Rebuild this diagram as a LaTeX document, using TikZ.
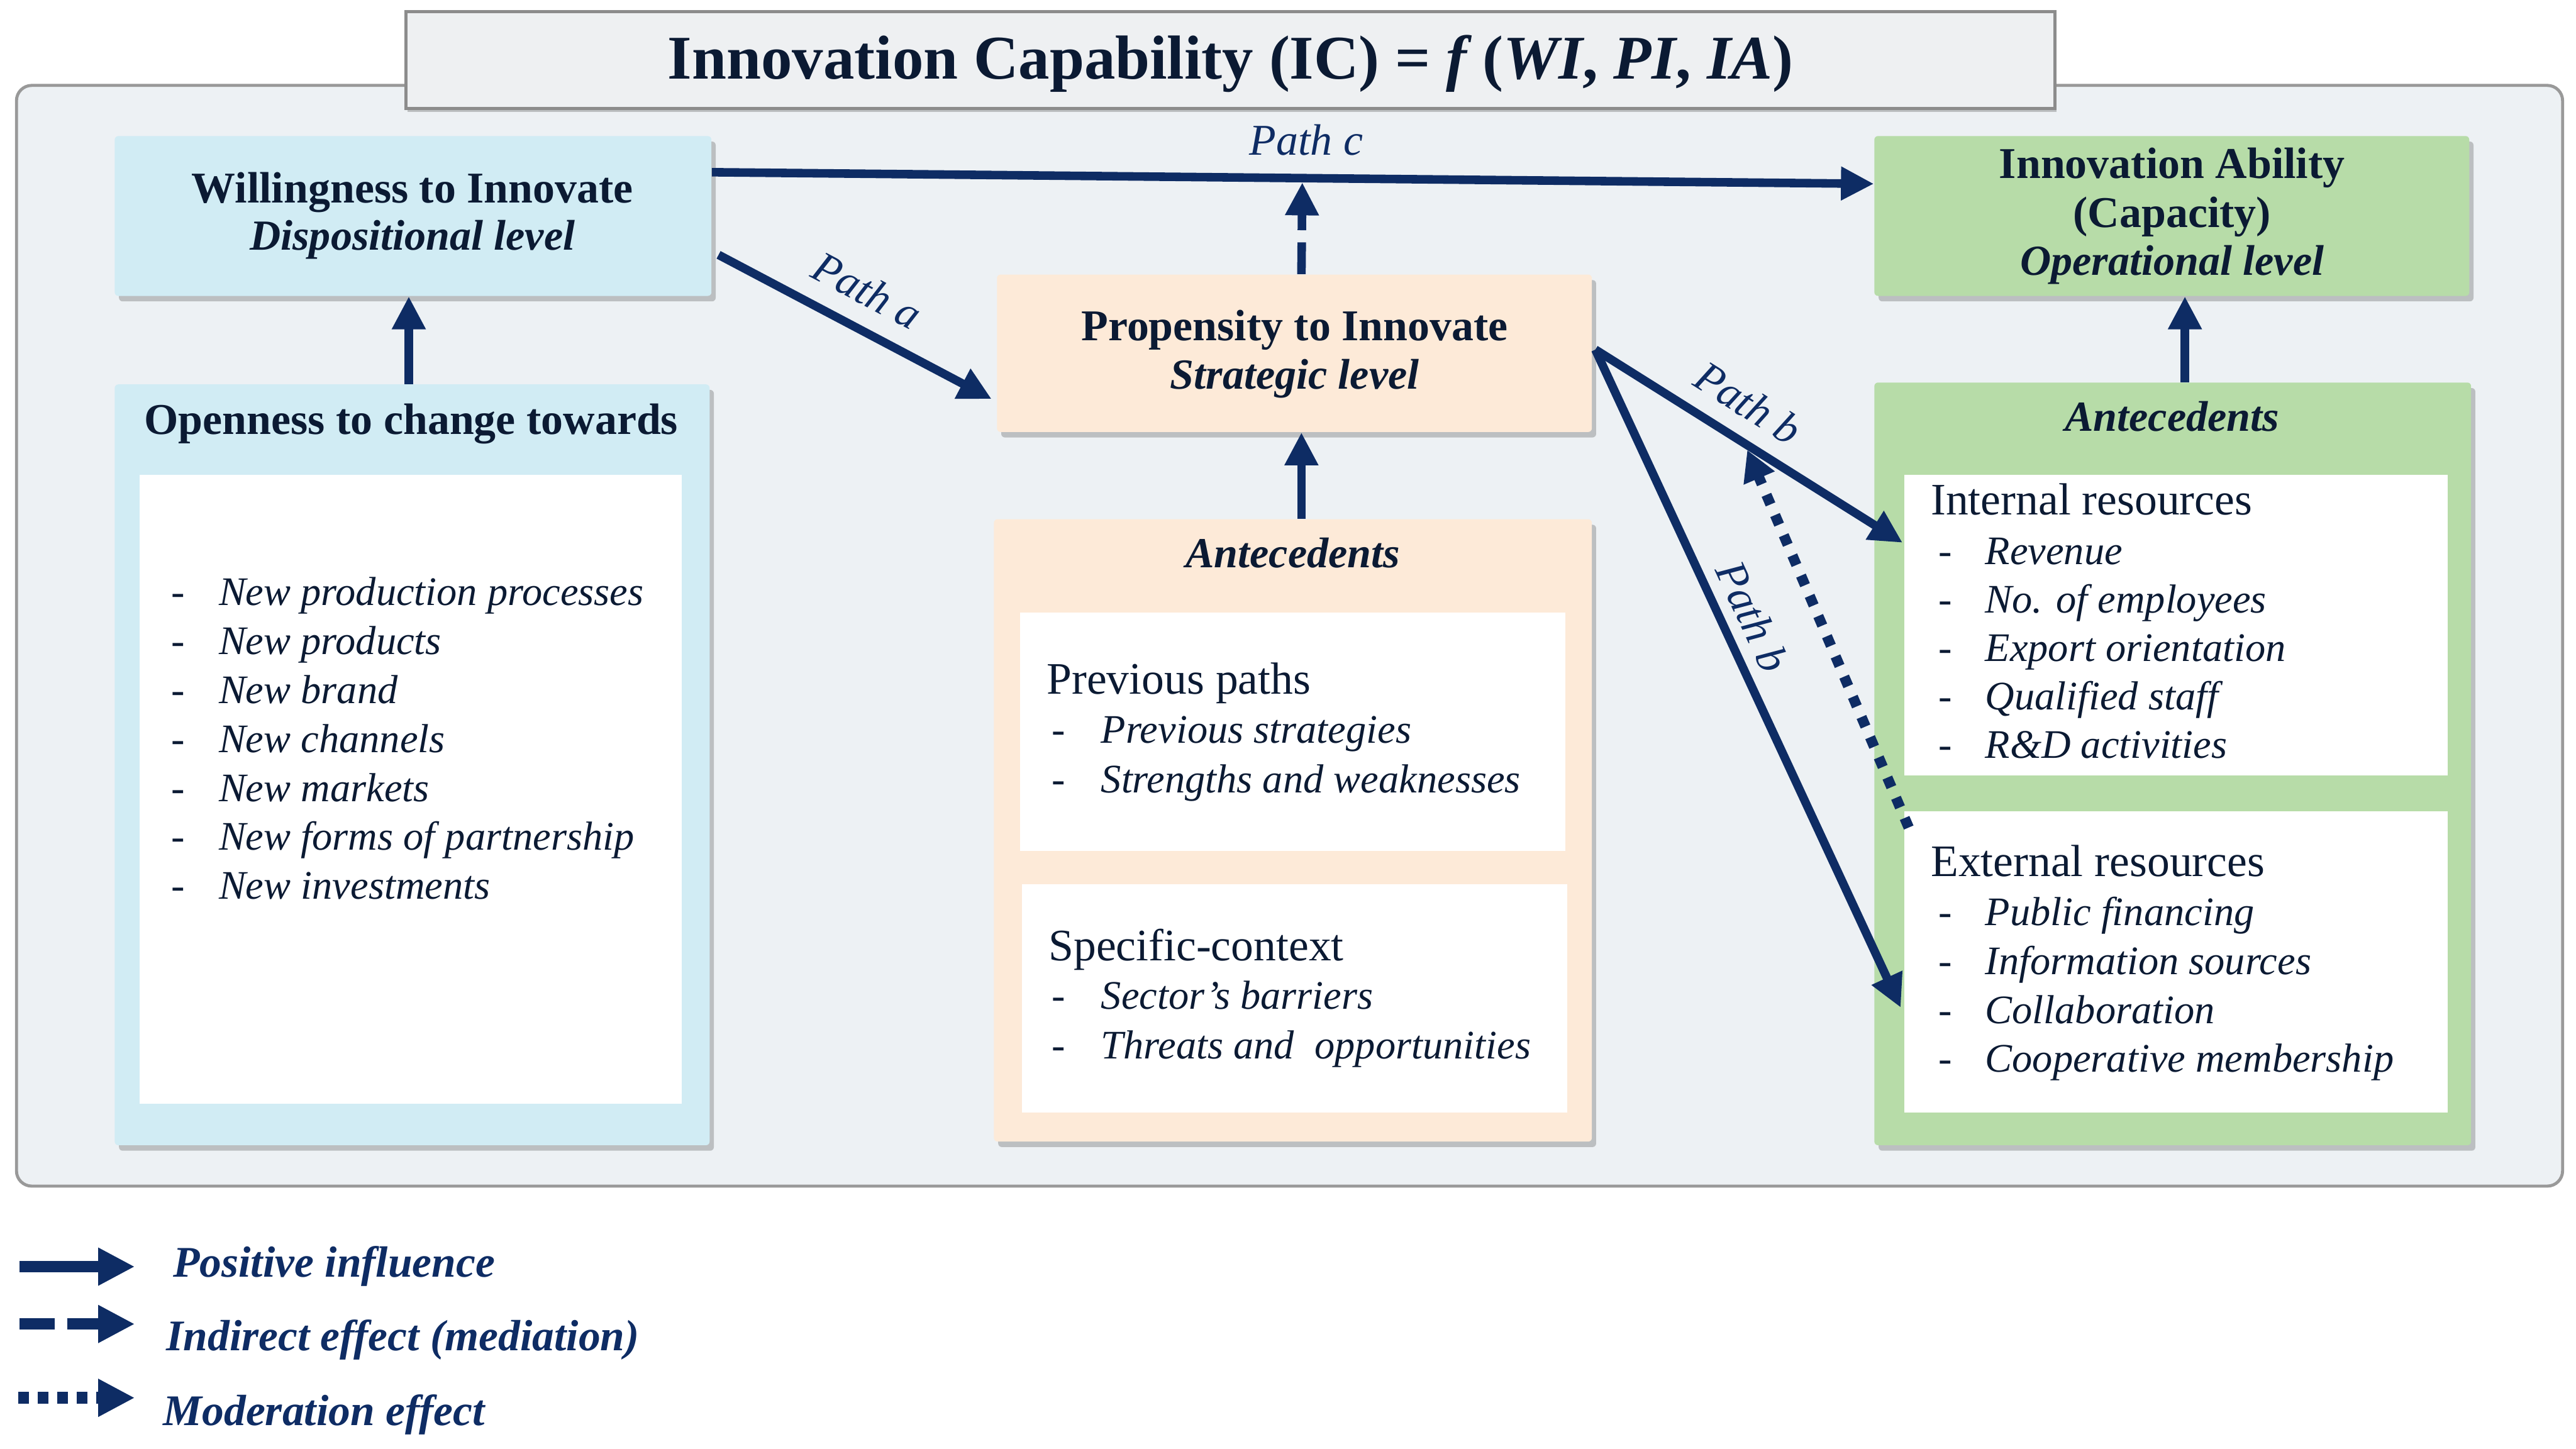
\documentclass[tikz,border=0pt]{standalone}
\usepackage{fontspec}
\setmainfont{Liberation Serif}
\usetikzlibrary{arrows.meta,shadows,calc}
\definecolor{navy}{HTML}{0E2C64}
\definecolor{bgc}{HTML}{EDF1F4}
\definecolor{titlec}{HTML}{EEF0F2}
\definecolor{bluebox}{HTML}{D1ECF4}
\definecolor{peach}{HTML}{FDEAD8}
\definecolor{greenbox}{HTML}{B7DCA8}
\definecolor{ink}{HTML}{0B1A33}
\newcommand\bxf{\fontsize{20.5}{24}\selectfont}
\newcommand\bif{\fontsize{20}{24}\selectfont}
\newcommand\hdf{\fontsize{21}{24}\selectfont}
\newcommand\itf{\fontsize{18.9}{22}\selectfont}
\tikzset{
  box/.style={rectangle, rounded corners=0.06cm, inner sep=0,
    drop shadow={shadow xshift=0.07cm, shadow yshift=-0.09cm, opacity=0.3, fill=black!70}},
  wbox/.style={rectangle, fill=white, inner sep=0},
  ttl/.style={anchor=mid, inner sep=0, yshift=-0.12cm, text=ink, font=\bxf\bfseries},
  ttli/.style={anchor=mid, inner sep=0, yshift=-0.12cm, text=ink, font=\bif\bfseries\itshape},
  head/.style={anchor=mid west, inner sep=0, yshift=-0.12cm, text=ink, font=\hdf},
  dashm/.style={anchor=mid west, inner sep=0, yshift=-0.12cm, text=ink, font=\itf},
  itm/.style={anchor=mid west, inner sep=0, yshift=-0.12cm, text=ink, font=\itf\itshape},
  arr/.style={draw=navy, line width=0.14cm, -{Triangle[length=0.54cm,width=0.52cm,fill=navy]}},
  plbl/.style={inner sep=0.06cm, text=navy, font=\fontsize{20.5}{24}\selectfont\itshape},
  legtxt/.style={anchor=mid west, inner sep=0, yshift=-0.12cm, text=navy, font=\fontsize{20.4}{24}\selectfont\bfseries\itshape},
}
\begin{document}
\begin{tikzpicture}
\useasboundingbox (0,0) rectangle (42.22,-23.74);
\fill[white] (0,0) rectangle (42.22,-23.74);

% background panel and title
\node[rectangle, rounded corners=0.25cm, fill=bgc, draw=black!40, line width=0.05cm,
  minimum width=41.73cm, minimum height=18.04cm] (bg) at (21.135,-10.42) {};
\node[rectangle, fill=titlec, draw=black!45, line width=0.05cm,
  drop shadow={shadow xshift=0.03cm, shadow yshift=-0.06cm, opacity=0.3, fill=black!70},
  minimum width=27.03cm, minimum height=1.59cm] (title) at (20.165,-0.985) {};
\node[anchor=mid, inner sep=0, text=ink, font=\fontsize{29}{33}\selectfont\bfseries] (titletxt) at (20.17,-1.21)
  {Innovation Capability (IC) = \textit{f}\,(\textit{WI}, \textit{PI}, \textit{IA})};

% Willingness to innovate
\node[box, fill=bluebox, minimum width=9.78cm, minimum height=2.62cm] (WI) at (6.77,-3.54) {};
\node[ttl] (WIt1) at (6.76,-3.12) {Willingness to Innovate};
\node[ttli] (WIt2) at (6.76,-3.90) {Dispositional level};

% Openness
\node[box, fill=bluebox, minimum width=9.75cm, minimum height=12.47cm] (OP) at (6.755,-12.535) {};
\node[ttl] (OPt) at (6.74,-6.92) {Openness to change towards};
\node[wbox, minimum width=8.88cm, minimum height=10.31cm] (OPw) at (6.73,-12.935) {};
\foreach \t [count=\i] in {New production processes, New products, New brand, New channels, New markets, New forms of partnership, New investments} {
  \node[dashm] (opd\i) at (2.80,{-9.72-0.803*(\i-1)}) {-};
  \node[itm] (opi\i) at (3.58,{-9.72-0.803*(\i-1)}) {\t};
}

% Propensity
\node[box, fill=peach, minimum width=9.75cm, minimum height=2.58cm] (PI) at (21.215,-5.79) {};
\node[ttl] (PIt1) at (21.22,-5.38) {Propensity to Innovate};
\node[ttli] (PIt2) at (21.22,-6.17) {Strategic level};

% Middle antecedents
\node[box, fill=peach, minimum width=9.80cm, minimum height=10.20cm] (MA) at (21.19,-13.61) {};
\node[ttli] (MAt) at (21.19,-9.10) {Antecedents};
\node[wbox, minimum width=8.94cm, minimum height=3.91cm] (MA1) at (21.19,-11.995) {};
\node[wbox, minimum width=8.94cm, minimum height=3.74cm] (MA2) at (21.22,-16.36) {};
\node[head] (MA1t) at (17.15,-11.17) {Previous paths};
\foreach \t [count=\i] in {Previous strategies, Strengths and weaknesses} {
  \node[dashm] (mad\i) at (17.23,{-11.98-0.81*(\i-1)}) {-};
  \node[itm] (mai\i) at (18.04,{-11.98-0.81*(\i-1)}) {\t};
}
\node[head] (MA2t) at (17.18,-15.54) {Specific-context};
\foreach \t [count=\i] in {Sector’s barriers, Threats and\ \ opportunities} {
  \node[dashm] (mbd\i) at (17.23,{-16.34-0.81*(\i-1)}) {-};
  \node[itm] (mbi\i) at (18.04,{-16.34-0.81*(\i-1)}) {\t};
}

% Innovation ability
\node[box, fill=greenbox, minimum width=9.75cm, minimum height=2.62cm] (IA) at (35.595,-3.54) {};
\node[ttl] (IAt1) at (35.60,-2.72) {Innovation Ability};
\node[ttl] (IAt2) at (35.60,-3.53) {(Capacity)};
\node[ttli] (IAt3) at (35.60,-4.31) {Operational level};

% Right antecedents
\node[box, fill=greenbox, minimum width=9.78cm, minimum height=12.50cm] (RA) at (35.61,-12.52) {};
\node[ttli] (RAt) at (35.60,-6.87) {Antecedents};
\node[wbox, minimum width=8.91cm, minimum height=4.93cm] (RA1) at (35.665,-10.245) {};
\node[wbox, minimum width=8.91cm, minimum height=4.93cm] (RA2) at (35.665,-15.765) {};
\node[head] (RA1t) at (31.64,-8.24) {Internal resources};
\foreach \t [count=\i] in {Revenue, No. of employees, Export orientation, Qualified staff, R\&D activities} {
  \node[dashm] (rad\i) at (31.77,{-9.05-0.793*(\i-1)}) {-};
  \node[itm] (rai\i) at (32.53,{-9.05-0.793*(\i-1)}) {\t};
}
\node[head] (RA2t) at (31.64,-14.16) {External resources};
\foreach \t [count=\i] in {Public financing, Information sources, Collaboration, Cooperative membership} {
  \node[dashm] (rbd\i) at (31.77,{-14.97-0.80*(\i-1)}) {-};
  \node[itm] (rbi\i) at (32.53,{-14.97-0.80*(\i-1)}) {\t};
}

% connectors
\draw[arr] (OP.north -| 6.70,0) -- (6.70,0 |- WI.south);
\draw[arr] ([xshift=0.14cm]MA.north) -- ([xshift=0.14cm]MA.north |- PI.south);
\draw[arr] (RA.north -| 35.81,0) -- (35.81,0 |- IA.south);

% path c
\coordinate (pcs) at ([yshift=-0.60cm]WI.north east);
\coordinate (pce) at ([yshift=-0.79cm]IA.north west);
\draw[arr] (pcs) -- (pce);
\node[plbl] (lc) at (21.41,-2.29) {Path c};

% mediation (dashed) from PI to path c
\coordinate (pib) at (21.33,0 |- PI.north);
\coordinate (pcm) at ($(pcs)!(pib)!(pce)$);
\draw[arr, dash pattern=on 0.52cm off 0.2cm, shorten >=0.07cm] (pib) -- (pcm);

% path a
\coordinate (pas) at ([xshift=0.11cm, yshift=0.68cm]WI.south east);
\coordinate (pae) at ([xshift=-0.08cm, yshift=-0.75cm]PI.west);
\draw[arr] (pas) -- node[plbl, sloped, above=0.24cm, pos=0.48] (la) {Path a} (pae);

% path b
\coordinate (pbs) at ([xshift=0.05cm, yshift=0.06cm]PI.east);
\coordinate (pbe1) at ([xshift=-0.02cm, yshift=1.35cm]RA1.west);
\coordinate (pbe2) at ([xshift=-0.05cm, yshift=-0.75cm]RA2.west);
\draw[arr] (pbs) -- node[plbl, sloped, above=0.21cm, pos=0.435] (lb1) {Path b} (pbe1);
\draw[arr] (pbs) -- node[plbl, sloped, above=0.12cm, pos=0.425] (lb2) {Path b} (pbe2);

% moderation (dotted)
\coordinate (mods) at ([xshift=0.08cm, yshift=-0.27cm]RA2.north west);
\coordinate (mode) at ($(pbs)!0.485!(pbe1)$);
\draw[draw=navy, line width=0.17cm, dash pattern=on 0.17cm off 0.19cm,
  -{Triangle[length=0.5cm,width=0.52cm,fill=navy]}, shorten >=0.12cm] (mods) -- (mode);

% legend
\coordinate (l1s) at (0.32,-20.76); \coordinate (l1e) at (2.21,-20.76);
\coordinate (l2s) at (0.32,-21.70); \coordinate (l2e) at (2.21,-21.70);
\coordinate (l3s) at (0.30,-22.91); \coordinate (l3e) at (2.21,-22.91);
\draw[draw=navy, line width=0.19cm, -{Triangle[length=0.6cm,width=0.58cm,fill=navy]}] (l1s) -- (l1e);
\draw[draw=navy, line width=0.19cm, dash pattern=on 0.58cm off 0.2cm, -{Triangle[length=0.6cm,width=0.58cm,fill=navy]}] (l2s) -- (l2e);
\draw[draw=navy, line width=0.19cm, dash pattern=on 0.17cm off 0.15cm, -{Triangle[length=0.6cm,width=0.58cm,fill=navy]}] (l3s) -- (l3e);
\node[legtxt] (lt1) at (2.83,-20.73) {Positive influence};
\node[legtxt] (lt2) at (2.72,-21.94) {Indirect effect (mediation)};
\node[legtxt] (lt3) at (2.67,-23.16) {Moderation effect};
\end{tikzpicture}
\end{document}
